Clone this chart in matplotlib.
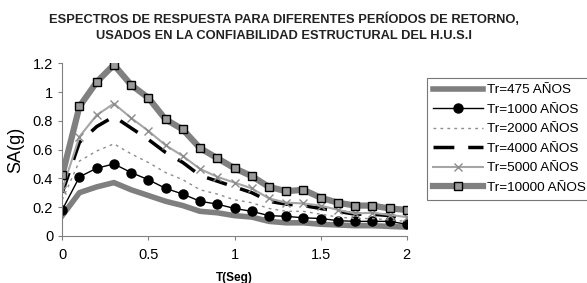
import numpy as np
import matplotlib
matplotlib.use("Agg")
import matplotlib.pyplot as plt

plt.rcParams['font.family'] = ['Liberation Sans', 'DejaVu Sans']

# periodos (s)
T = [0.0, 0.1, 0.2, 0.3, 0.4, 0.5, 0.6, 0.7, 0.8, 0.9, 1.0,
     1.1, 1.2, 1.3, 1.4, 1.5, 1.6, 1.7, 1.8, 1.9, 2.0]

sa_475 = [0.14, 0.30, 0.34, 0.37, 0.32, 0.28, 0.24, 0.21, 0.17, 0.16, 0.14,
          0.13, 0.10, 0.09, 0.09, 0.08, 0.075, 0.07, 0.07, 0.065, 0.06]
sa_1000 = [0.18, 0.41, 0.47, 0.50, 0.44, 0.39, 0.33, 0.29, 0.24, 0.22, 0.19,
           0.17, 0.14, 0.135, 0.125, 0.12, 0.105, 0.10, 0.10, 0.10, 0.08]
sa_2000 = [0.25, 0.52, 0.59, 0.64, 0.57, 0.51, 0.44, 0.39, 0.32, 0.29, 0.25,
           0.23, 0.19, 0.17, 0.17, 0.15, 0.13, 0.12, 0.12, 0.11, 0.10]
sa_4000 = [0.30, 0.65, 0.76, 0.83, 0.75, 0.67, 0.58, 0.51, 0.42, 0.38, 0.34,
           0.30, 0.24, 0.22, 0.21, 0.19, 0.17, 0.15, 0.15, 0.14, 0.12]
sa_5000 = [0.32, 0.69, 0.84, 0.92, 0.82, 0.73, 0.63, 0.555, 0.465, 0.41, 0.37,
           0.33, 0.26, 0.23, 0.225, 0.21, 0.18, 0.155, 0.16, 0.145, 0.13]
sa_10000 = [0.42, 0.90, 1.07, 1.19, 1.05, 0.96, 0.81, 0.74, 0.61, 0.54, 0.47,
            0.415, 0.34, 0.31, 0.32, 0.265, 0.23, 0.21, 0.21, 0.19, 0.18]

labels = ['Tr=475 AÑOS', 'Tr=1000 AÑOS', 'Tr=2000 AÑOS',
          'Tr=4000 AÑOS', 'Tr=5000 AÑOS', 'Tr=10000 AÑOS']

fig = plt.figure(figsize=(5.87, 2.83), dpi=100)
ax = fig.add_axes([0.106, 0.167, 0.587, 0.609])

ax.plot(T, sa_475, color='#7f7f7f', lw=4, label=labels[0])
ax.plot(T, sa_1000, color='black', lw=1, marker='o', ms=6.5, label=labels[1])
ax.plot(T, sa_2000, color='#8c8c8c', lw=1, ls=(0, (2, 3)), label=labels[2])
ax.plot(T, sa_4000, color='black', lw=2.5, ls=(0, (6, 4)), label=labels[3])
ax.plot(T, sa_5000, color='#a6a6a6', lw=1.5, marker='x', ms=6,
        mec='#8c8c8c', label=labels[4])
ax.plot(T, sa_10000, color='#808080', lw=4.5, marker='s', ms=6,
        mfc='#9a9a9a', mec='black', mew=1, label=labels[5])

ax.set_xlim(0, 2)
ax.set_ylim(0, 1.2)
ax.set_xticks([0, 0.5, 1, 1.5, 2])
ax.set_xticklabels(['0', '0.5', '1', '1.5', '2'])
ax.set_yticks([0, 0.2, 0.4, 0.6, 0.8, 1.0, 1.2])
ax.set_yticklabels(['0', '0.2', '0.4', '0.6', '0.8', '1', '1.2'])
ax.tick_params(labelsize=10.5, direction='out', length=3, color='#808080')
ax.tick_params(axis='x', pad=6)
for s in ['top', 'right']:
    ax.spines[s].set_visible(False)
for s in ['left', 'bottom']:
    ax.spines[s].set_color('#808080')
    ax.spines[s].set_clip_on(False)

ax.set_ylabel('SA(g)', fontsize=13, labelpad=6)
ax.set_xlabel('T(Seg)', fontsize=8.5, fontweight='bold', labelpad=7)

fig.text(0.484, 0.905, 'ESPECTROS DE RESPUESTA PARA DIFERENTES PERÍODOS DE RETORNO,\n'
         'USADOS EN LA CONFIABILIDAD ESTRUCTURAL DEL H.U.S.I',
         ha='center', va='center', fontsize=9.3, fontweight='bold',
         linespacing=1.45, color='#222222')

leg = fig.legend(loc='upper left', bbox_to_anchor=(427 / 587, 1 - 78 / 283),
                 fontsize=9.7, frameon=True, fancybox=False, handlelength=3.7,
                 labelspacing=0.52, borderpad=0.45, handletextpad=0.3,
                 borderaxespad=0)
leg.get_frame().set_edgecolor('#555555')
leg.get_frame().set_linewidth(0.8)

fig.savefig('out.png', dpi=100)
